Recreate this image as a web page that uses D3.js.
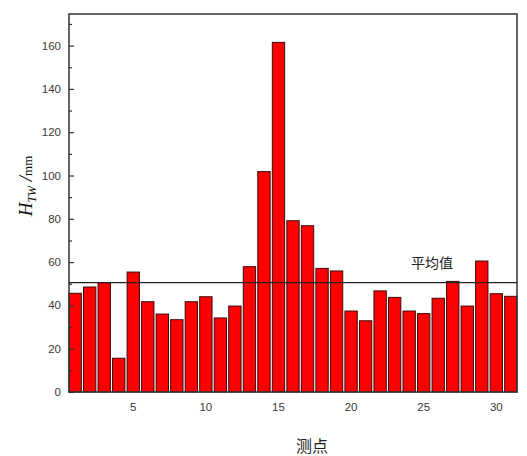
<!DOCTYPE html>
<html><head><meta charset="utf-8">
<script src="https://cdn.jsdelivr.net/npm/d3@7"></script>
<style>body{margin:0;background:#fff}svg{display:block}</style>
</head><body>
<script>
const points = d3.range(1, 32);
const values = [45.6,48.5,50.5,15.6,55.4,41.7,36.0,33.4,41.7,44.0,34.2,39.7,57.9,101.8,161.5,79.1,76.8,57.1,55.9,37.4,32.9,46.7,43.7,37.4,36.2,43.3,51.1,39.7,60.5,45.4,44.2];
const meanValue = 50.5;
const xTicks = [5,10,15,20,25,30];
const yTicks = [0,20,40,60,80,100,120,140,160];
const yMinor = [10,30,50,70,90,110,130,150,170];
const meanLabel = "平均值";
const xTitle = "测点";

const W = 527, H = 456;
const L = 69, R = 517, T = 14, B = 392;
const svg = d3.select("body").append("svg").attr("width", W).attr("height", H);
const x = d3.scaleLinear().domain([0.575, 31.425]).range([L, R]);
const y = d3.scaleLinear().domain([0, 174.6]).range([B, T]);
const bw = (x(1.85) - x(1));

// bars
svg.append("g").selectAll("rect").data(points).join("rect")
  .attr("x", d => x(d) - bw/2)
  .attr("width", bw)
  .attr("y", (d,i) => y(values[i]))
  .attr("height", (d,i) => y(0) - y(values[i]))
  .attr("fill", "#ff0000")
  .attr("stroke", "#3a0a0a")
  .attr("stroke-width", 1);

// y axis
const ya = svg.append("g").attr("transform", `translate(${L},0)`)
  .call(d3.axisRight(y).tickValues(yTicks).tickSize(5).tickFormat(""));
ya.select(".domain").remove();
ya.selectAll("line").attr("stroke", "#333").attr("stroke-width", 1.2);
const ym = svg.append("g").attr("transform", `translate(${L},0)`)
  .call(d3.axisRight(y).tickValues(yMinor).tickSize(3).tickFormat(""));
ym.select(".domain").remove();
ym.selectAll("line").attr("stroke", "#333").attr("stroke-width", 1.2);

svg.append("g").selectAll("text").data(yTicks).join("text")
  .attr("x", L - 8).attr("y", d => y(d)).attr("dy", "0.35em")
  .attr("text-anchor", "end")
  .attr("font-family", "Liberation Sans, Arial, sans-serif")
  .attr("font-size", 11.5).attr("fill", "#3a3a3a")
  .text(d => d);

svg.append("g").selectAll("text").data(xTicks).join("text")
  .attr("x", d => x(d)).attr("y", 411)
  .attr("text-anchor", "middle")
  .attr("font-family", "Liberation Sans, Arial, sans-serif")
  .attr("font-size", 11.5).attr("fill", "#3a3a3a")
  .text(d => d);

// frame
svg.append("rect").attr("x", L).attr("y", T).attr("width", R - L).attr("height", B - T)
  .attr("fill", "none").attr("stroke", "#333").attr("stroke-width", 1.5);

// mean line
svg.append("line").attr("x1", L).attr("x2", R).attr("y1", y(meanValue)).attr("y2", y(meanValue))
  .attr("stroke", "#222").attr("stroke-width", 1.2);
svg.append("text").attr("x", 432).attr("y", 268).attr("text-anchor", "middle")
  .attr("font-family", "Noto Sans CJK SC, sans-serif").attr("font-size", 14).attr("fill", "#222")
  .text(meanLabel);

// x title
svg.append("text").attr("x", 312).attr("y", 452).attr("text-anchor", "middle")
  .attr("font-family", "Noto Sans CJK SC, sans-serif").attr("font-size", 16).attr("fill", "#222")
  .text(xTitle);

// y title
const yt = svg.append("text").attr("transform", "translate(32,186) rotate(-90)")
  .attr("text-anchor", "middle").attr("font-family", "Liberation Serif, Times New Roman, serif")
  .attr("fill", "#111");
yt.append("tspan").attr("font-style", "italic").attr("font-size", 19).text("H");
yt.append("tspan").attr("font-style", "italic").attr("font-size", 12).attr("dy", 4).text("TW");
yt.append("tspan").attr("font-style", "italic").attr("font-size", 19).attr("dy", -4).text(" /");
yt.append("tspan").attr("font-size", 13).text("mm");
</script>
</body></html>
